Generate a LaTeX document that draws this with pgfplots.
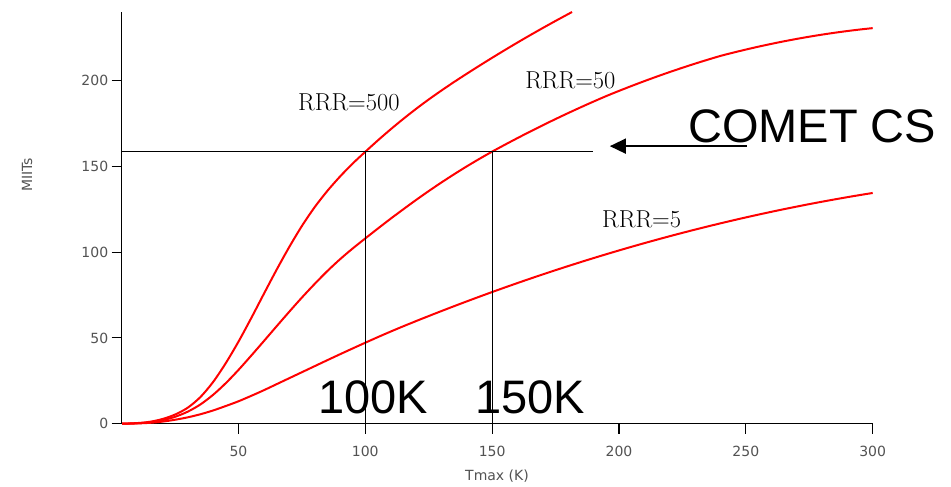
\documentclass[border=0pt]{standalone}
\usepackage{fontspec}
\setmainfont{Liberation Sans}
\newfontfamily\labelfont{DejaVu Sans}
\newfontfamily\rrrfont{Latin Modern Roman}
\usepackage{pgfplots}
\pgfplotsset{compat=1.18}
\usetikzlibrary{arrows.meta}

% MIITs versus maximum temperature for three residual resistivity ratios
\pgfplotstableread{
T     M
4.2   0
10    0.35
15    1.1
20    2.7
25    5.3
30    9.3
35    15.5
40    24.25
45    35.25
50    47.75
55    61.4
60    75.6
65    89.6
70    102.9
75    115.2
80    126.1
85    135.6
90    144.0
95    151.6
100   158.5
105   165.2
110   171.6
115   177.7
120   183.5
125   189.0
130   194.2
135   199.2
140   204.0
145   208.7
150   213.3
155   217.8
160   222.2
165   226.5
170   230.7
175   234.8
180   238.8
181.5 240.0
}\rrrfivehundred

\pgfplotstableread{
T     M
4.2   0
10    0.25
15    0.8
20    2.0
25    4.0
30    7.0
35    11.2
40    16.8
45    23.6
50    31.3
55    39.6
60    48.1
65    56.7
70    65.2
75    73.5
80    81.4
85    88.9
90    95.8
95    102.1
100   108.0
105   113.8
110   119.5
115   125.0
120   130.4
125   135.6
130   140.6
135   145.4
140   150.0
145   154.4
150   158.6
155   162.6
160   166.5
165   170.3
170   174.0
175   177.6
180   181.1
185   184.5
190   187.8
195   191.0
200   194.0
205   196.9
210   199.7
215   202.4
220   205.0
225   207.5
230   209.9
235   212.2
240   214.4
245   216.3
250   218.1
255   219.8
260   221.4
265   222.9
270   224.3
275   225.6
280   226.8
285   227.9
290   228.9
295   229.8
300   230.6
}\rrrfifty

\pgfplotstableread{
T     M
4.2   0
10    0.15
15    0.5
20    1.2
25    2.3
30    3.7
35    5.5
40    7.7
45    10.3
50    13.05
55    16.2
60    19.5
65    23.0
70    26.5
75    30.0
80    33.5
85    37.0
90    40.45
95    43.85
100   47.2
105   50.5
110   53.7
115   56.8
120   59.8
125   62.75
130   65.65
135   68.5
140   71.3
145   74.05
150   76.75
155   79.4
160   82.0
165   84.55
170   87.05
175   89.5
180   91.9
185   94.25
190   96.55
195   98.8
200   101.0
205   103.15
210   105.25
215   107.3
220   109.3
225   111.25
230   113.15
235   115.0
240   116.8
245   118.55
250   120.25
255   121.9
260   123.5
265   125.05
270   126.55
275   128.0
280   129.4
285   130.75
290   132.05
295   133.3
300   134.5
}\rrrfive

\begin{document}
\begin{tikzpicture}[x=1pt,y=1pt]
% fixed page frame
\path (-121.7,-58.3) rectangle (829.3,423.7);
\begin{axis}[
  scale only axis,
  width=751pt, height=411.7pt,
  xmin=4, xmax=300, ymin=0, ymax=240,
  axis lines=left,
  axis line style={-, line width=1.1pt, black},
  xtick={50,100,150,200,250,300},
  ytick={0,50,100,150,200},
  tick align=outside,
  major tick length=10pt,
  tick style={line width=1.1pt, black},
  tick label style={font=\labelfont\fontsize{14}{16}\selectfont, text=black!68},
  xticklabel style={yshift=-9pt},
  /pgf/number format/assume math mode=true,
  clip=false,
]
\addplot[red, line width=2pt, smooth] table[x=T,y=M] {\rrrfivehundred};
\addplot[red, line width=2pt, smooth] table[x=T,y=M] {\rrrfifty};
\addplot[red, line width=2pt, smooth] table[x=T,y=M] {\rrrfive};

% design point and the temperatures it meets
\draw[black, line width=1pt] (axis cs:4,158.5) -- (axis cs:189.8,158.5);
\draw[black, line width=1pt] (axis cs:100,0) -- (axis cs:100,158.5);
\draw[black, line width=1pt] (axis cs:150,0) -- (axis cs:150,158.5);
\draw[black, line width=1.5pt, -{Triangle[length=16pt,width=15pt]}]
  (axis cs:250.4,161.8) -- (axis cs:196.4,161.8);

\node[anchor=base west, inner sep=0, font=\rrrfont\fontsize{24.5}{28}\selectfont]
  at (axis cs:73.5,182.8) {RRR=500};
\node[anchor=base west, inner sep=0, font=\rrrfont\fontsize{24.5}{28}\selectfont]
  at (axis cs:163.0,195.6) {RRR=50};
\node[anchor=base west, inner sep=0, font=\rrrfont\fontsize{24.5}{28}\selectfont]
  at (axis cs:193.3,114.6) {RRR=5};

\node[anchor=base west, inner sep=0, font=\fontsize{47}{50}\selectfont]
  at (axis cs:227.2,164.2) {COMET CS};
\node[anchor=base west, inner sep=0, font=\fontsize{47}{50}\selectfont]
  at (axis cs:81.4,6.2) {100K};
\node[anchor=base west, inner sep=0, font=\fontsize{47}{50}\selectfont]
  at (axis cs:143.3,6.2) {150K};
\end{axis}
% axis titles
\node[font=\labelfont\fontsize{14}{16}\selectfont, text=black!68] at (375.3,-52.8) {Tmax (K)};
\node[font=\labelfont\fontsize{14}{16}\selectfont, text=black!68, rotate=90] at (-94.7,248.7) {MIITs};
\end{tikzpicture}
\end{document}
